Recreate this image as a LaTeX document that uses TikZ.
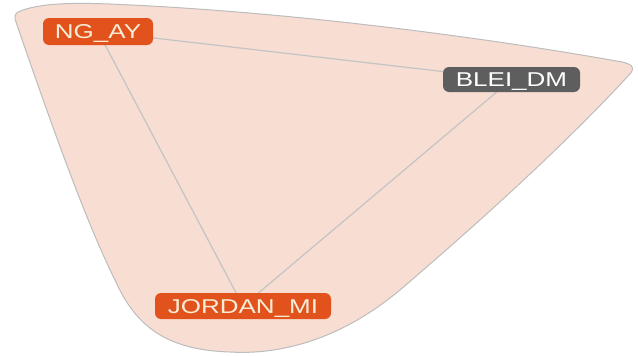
\documentclass[tikz,border=0pt]{standalone}
\usepackage{fontspec}
\newfontfamily\lblfont[FakeStretch=1.3]{Liberation Sans}
\definecolor{blobfill}{HTML}{F7DDD2}
\definecolor{blobline}{HTML}{BDBDBD}
\definecolor{edgecol}{HTML}{C4C4C4}
\definecolor{orangenode}{HTML}{E2521C}
\definecolor{graynode}{HTML}{5E5E5E}
\definecolor{lighttext}{HTML}{F8EED8}
\tikzset{
  lbl/.style={rounded corners=6pt, inner sep=0pt, font=\lblfont\fontsize{20}{20}\selectfont, text height=14pt, text depth=0pt},
  orangelbl/.style={lbl, fill=orangenode, text=lighttext},
  graylbl/.style={lbl, fill=graynode, text=white},
  edgeline/.style={draw=edgecol, line width=1.2pt},
  blob/.style={fill=blobfill, draw=blobline, line width=1pt}
}
\begin{document}
\begin{tikzpicture}[x=1pt, y=-1pt]
\useasboundingbox (0,0) rectangle (638,356);
\path[blob] (18,12) .. controls (40,2) and (80,3) .. (110,4)
  .. controls (300,12) and (500,40) .. (622,62)
  .. controls (636,65) and (634,70) .. (628,76)
  .. controls (560,150) and (470,230) .. (400,290)
  .. controls (340,340) and (280,355) .. (230,352)
  .. controls (165,350) and (135,325) .. (115,280)
  .. controls (90,230) and (60,150) .. (16,22)
  .. controls (14,17) and (15,14) .. (18,12) -- cycle;
\coordinate (ngc) at (98,31.5);
\coordinate (bleic) at (511.5,79.5);
\coordinate (jorc) at (243,306);
\draw[edgeline] (ngc) -- (bleic);
\draw[edgeline] (ngc) -- (jorc);
\draw[edgeline] (bleic) -- (jorc);
\node[orangelbl, minimum width=110pt, minimum height=27pt] (ng) at (ngc) {NG\_AY};
\node[graylbl, minimum width=137pt, minimum height=25pt] (blei) at (bleic) {BLEI\_DM};
\node[orangelbl, minimum width=176pt, minimum height=26pt] (jordan) at (jorc) {JORDAN\_MI};
\end{tikzpicture}
\end{document}
